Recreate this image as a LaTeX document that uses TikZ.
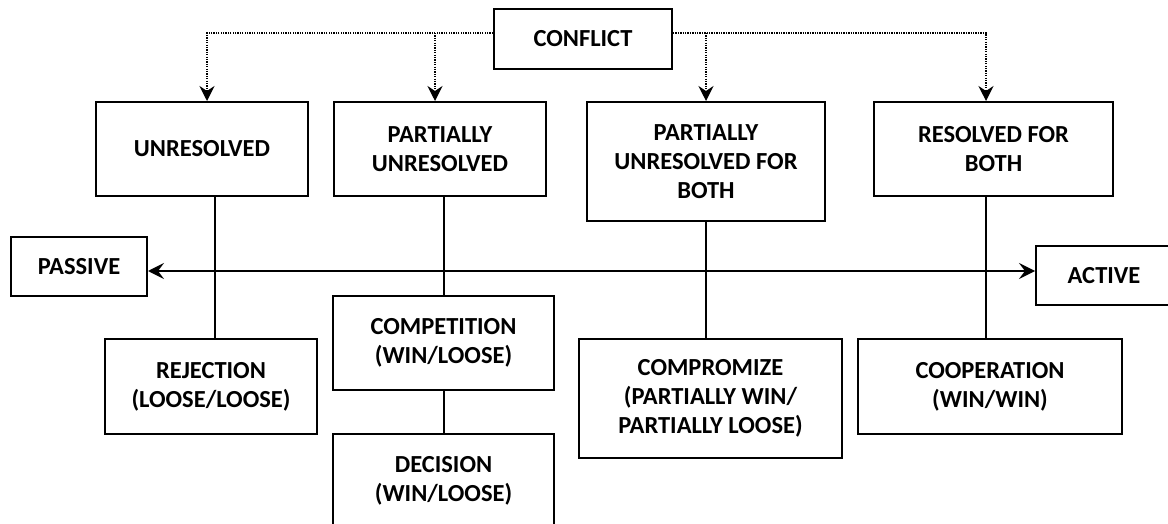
\documentclass[tikz,border=0pt]{standalone}
\usepackage{fontspec}
\setmainfont{Carlito}
\usetikzlibrary{arrows.meta}
\begin{document}
\begin{tikzpicture}[x=1pt,y=-1pt,
  box/.style={draw, line width=2pt, inner sep=0pt, align=center,
    font=\fontsize{24.5}{29}\selectfont\bfseries},
  conn/.style={line width=2pt},
  dotarrow/.style={line width=1.3pt, dash pattern=on 1.3pt off 1.1pt,
    -{Stealth[length=15pt,width=15pt,inset=5pt]}},
  dbl/.style={line width=1.8pt,
    {Stealth[length=16pt,width=16pt,inset=6pt]}-{Stealth[length=16pt,width=16pt,inset=6pt]}}
]
\useasboundingbox (0,0) rectangle (1168,524);
\clip (0,0) rectangle (1168,524);

% nodes
\node[box, minimum width=178pt, minimum height=60pt] (conf) at (583,39) {CONFLICT};
\node[box, minimum width=212pt, minimum height=94pt] (u) at (202,149) {UNRESOLVED};
\node[box, minimum width=212pt, minimum height=94pt] (pu) at (440,149) {PARTIALLY\\UNRESOLVED};
\node[box, minimum width=238pt, minimum height=119pt] (pufb) at (706,161.5) {PARTIALLY\\UNRESOLVED FOR\\BOTH};
\node[box, minimum width=239pt, minimum height=94pt] (rfb) at (993.5,149) {RESOLVED FOR\\BOTH};
\node[box, minimum width=136pt, minimum height=59pt] (pas) at (79,266.5) {PASSIVE};
\node[box, minimum width=136pt, minimum height=59pt] (act) at (1104,275.5) {ACTIVE};
\node[box, minimum width=212pt, minimum height=95pt] (rej) at (211,386.5) {REJECTION\\(LOOSE/LOOSE)};
\node[box, minimum width=221pt, minimum height=94pt] (comp) at (443.5,343) {COMPETITION\\(WIN/LOOSE)};
\node[box, minimum width=221pt, minimum height=94pt] (dec) at (443.5,481) {DECISION\\(WIN/LOOSE)};
\node[box, minimum width=263pt, minimum height=119pt] (cmz) at (710.5,398.5) {COMPROMIZE\\(PARTIALLY WIN/\\PARTIALLY LOOSE)};
\node[box, minimum width=264pt, minimum height=95pt] (coop) at (990,386.5) {COOPERATION\\(WIN/WIN)};

% helper coordinates
\coordinate (d1) at (207,33);
\coordinate (d2) at (435,33);
\coordinate (d3) at (706,33);
\coordinate (d4) at (986,33);
\coordinate (v1) at (215,0);
\coordinate (v2) at (444,0);
\coordinate (v3) at (706,0);
\coordinate (v4) at (986,0);
\coordinate (h) at (0,271);

% dotted connectors from CONFLICT
\draw[dotarrow] (conf.west |- d1) -| (u.north -| d1);
\draw[dotarrow] (d2) -- (pu.north -| d2);
\draw[dotarrow] (conf.east |- d4) -| (rfb.north -| d4);
\draw[dotarrow] (d3) -- (pufb.north -| d3);

% solid connectors
\draw[conn] (u.south -| v1) -- (rej.north -| v1);
\draw[conn] (pu.south -| v2) -- (comp.north -| v2);
\draw[conn] (comp.south -| v2) -- (dec.north -| v2);
\draw[conn] (pufb.south -| v3) -- (cmz.north -| v3);
\draw[conn] (rfb.south -| v4) -- (coop.north -| v4);

% passive-active axis
\draw[dbl] (pas.east |- h) -- (act.west |- h);
\end{tikzpicture}
\end{document}
